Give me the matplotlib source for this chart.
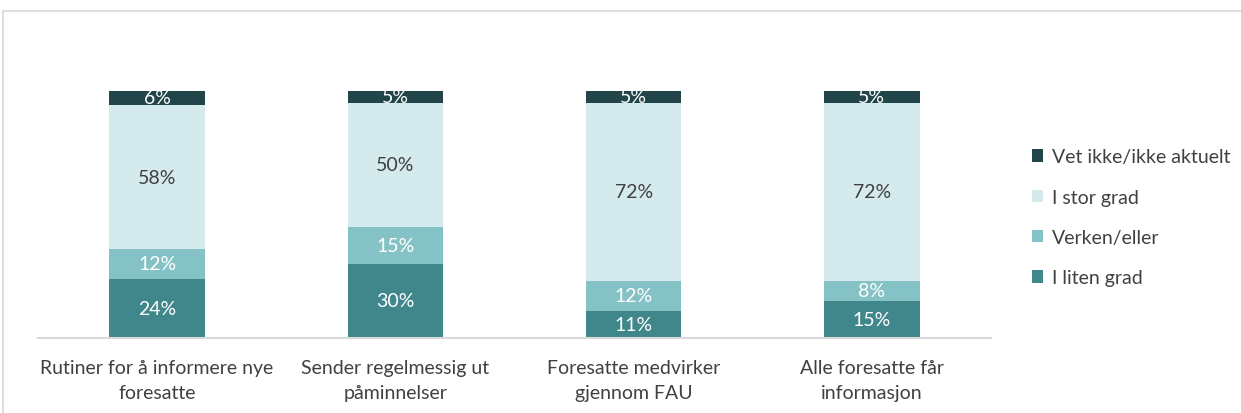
import matplotlib
matplotlib.use("Agg")
import matplotlib.pyplot as plt
from matplotlib.lines import Line2D

plt.rcParams['font.family'] = ['Lato', 'DejaVu Sans']

categories = ["Rutiner for å informere nye\nforesatte",
              "Sender regelmessig ut\npåminnelser",
              "Foresatte medvirker\ngjennom FAU",
              "Alle foresatte får\ninformasjon"]
series_names = ["I liten grad", "Verken/eller", "I stor grad", "Vet ikke/ikke aktuelt"]
i_liten = [24, 30, 11, 15]
verken = [12, 15, 12, 8]
i_stor = [58, 50, 72, 72]
vet_ikke = [6, 5, 5, 5]
series = [i_liten, verken, i_stor, vet_ikke]
colors = ["#3f878b", "#84c2c6", "#d4eaed", "#22454a"]
text_colors = ["white", "white", "#404040", "white"]

W, H = 1241, 414
fig = plt.figure(figsize=(W / 100, H / 100), dpi=100)

# outer chart frame (left and top edges visible)
fig.add_artist(Line2D([3 / W, 3 / W], [0, 1 - 12 / H], transform=fig.transFigure,
                      color="#d9d9d9", lw=1.2))
fig.add_artist(Line2D([3 / W, 1], [1 - 12 / H, 1 - 12 / H], transform=fig.transFigure,
                      color="#d9d9d9", lw=1.2))

ax_left, ax_right = 38 / W, 991 / W
ax_bottom = (H - 339) / H
ax_top = (H - 42) / H
ax = fig.add_axes([ax_left, ax_bottom, ax_right - ax_left, ax_top - ax_bottom])

x = range(len(categories))
bottom = [0] * len(categories)
handles = []
for vals, col, tc, name in zip(series, colors, text_colors, series_names):
    bars = ax.bar(x, vals, bottom=bottom, width=0.4, color=col, label=name)
    handles.append(bars)
    for xi, v, b in zip(x, vals, bottom):
        ax.text(xi, b + v / 2, f"{v}%", ha="center", va="center", color=tc, fontsize=14)
    bottom = [b + v for b, v in zip(bottom, vals)]

ax.set_xlim(-0.5, len(categories) - 0.5)
ax.set_ylim(0, 120)
ax.set_yticks([])
for s in ["top", "right", "left"]:
    ax.spines[s].set_visible(False)
ax.spines["bottom"].set_color("#d9d9d9")
ax.spines["bottom"].set_linewidth(1.5)
ax.set_xticks(list(x))
ax.set_xticklabels(categories, fontsize=14, color="#404040", linespacing=1.55)
ax.tick_params(axis="x", length=0, pad=15)

leg = fig.legend(handles=handles[::-1], labels=series_names[::-1], loc="upper left",
                 bbox_to_anchor=(1014 / W, 1 - 132 / H), frameon=False, fontsize=14,
                 labelcolor="#404040", handlelength=0.6, handleheight=0.6,
                 handletextpad=0.45, labelspacing=1.2)

fig.savefig("out.png", dpi=100, facecolor="white")
